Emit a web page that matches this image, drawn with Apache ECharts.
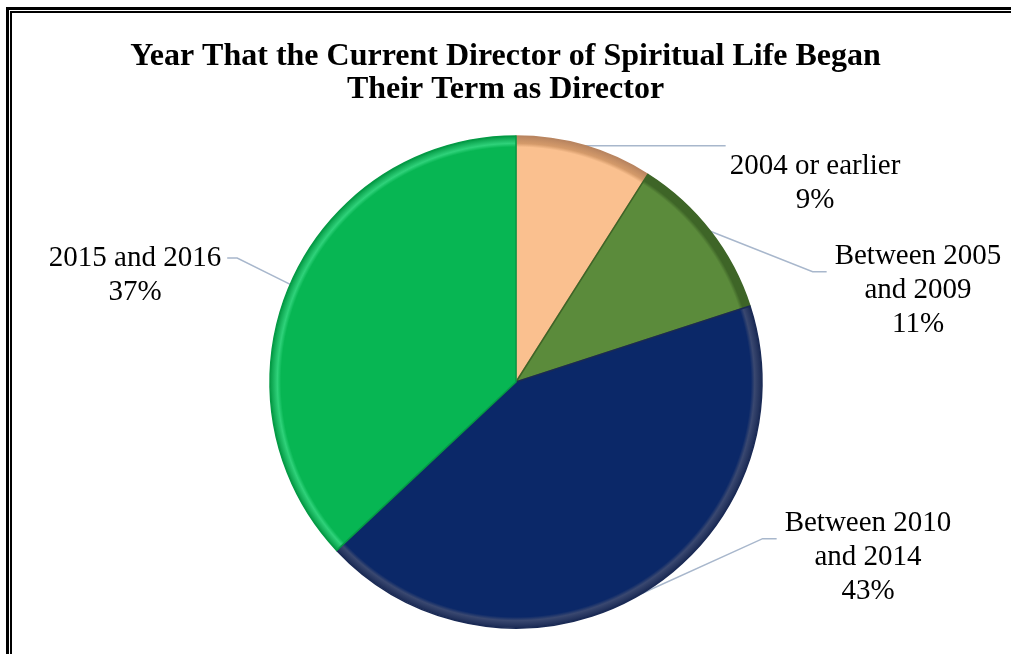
<!DOCTYPE html>
<html lang="en">
<head>
    <meta charset="UTF-8">
    <title>Year That the Current Director of Spiritual Life Began Their Term as Director</title>
    <script type="text/javascript" src="https://cdn.jsdelivr.net/npm/echarts@6/dist/echarts.min.js"></script>
    <style>
        html, body { margin: 0; padding: 0; background: #fff; overflow: hidden; }
        #chart { position: absolute; left: 0; top: 0; width: 1011px; height: 654px; }
        /* double frame, only top and left edges fall inside the picture */
        .frame-outer { position: absolute; left: 6px; top: 7px; width: 1200px; height: 800px; border: 3px solid #000; }
        .frame-inner { position: absolute; left: 10px; top: 11px; width: 1200px; height: 800px; border: 2px solid #000; }
    </style>
</head>
<body>
<div id="chart"></div>
<div class="frame-outer"></div>
<div class="frame-inner"></div>
<script type="text/javascript">
    var categories = ['2004 or earlier', 'Between 2005\nand 2009', 'Between 2010\nand 2014', '2015 and 2016'];
    var shares = [9, 11, 43, 37];

    // centre of each label block, and how its leader meets it
    var labelSpots = [[815, 183], [918, 290], [868, 557], [135, 275]];
    var leaderKind = ['flat', 'left', 'left', 'right'];

    var sliceColors = ['#FAC08F', '#5B8B3B', '#0B2868', '#07B653'];
    var rimColors = ['#D49A6A', '#3E6527', '#3A4870', '#2FD27A'];
    var edgeColors = ['#B98560', '#3E6527', '#1A2A55', '#049A45'];

    var chart = echarts.init(document.getElementById('chart'));
    var cx = 516, cy = 382, R = 246;

    var pieData = [];
    for (var i = 0; i < categories.length; i++) {
        pieData.push({
            name: categories[i],
            value: shares[i],
            itemStyle: {
                color: {
                    type: 'radial', x: cx, y: cy, r: R, global: true,
                    colorStops: [
                        { offset: 0, color: sliceColors[i] },
                        { offset: 0.955, color: sliceColors[i] },
                        { offset: 0.97, color: rimColors[i] },
                        { offset: 1, color: edgeColors[i] }
                    ]
                },
                borderColor: edgeColors[i],
                borderWidth: 1.5
            }
        });
    }

    var option = {
        backgroundColor: '#fff',
        animation: false,
        title: {
            text: 'Year That the Current Director of Spiritual Life Began\nTheir Term as Director',
            left: 'center',
            top: 40,
            padding: 0,
            textStyle: {
                fontFamily: 'Liberation Serif',
                fontWeight: 'bold',
                fontSize: 32,
                lineHeight: 33,
                color: '#000'
            }
        },
        series: [{
            type: 'pie',
            center: [cx, cy],
            radius: R,
            startAngle: 90,
            clockwise: true,
            data: pieData,
            label: {
                show: true,
                position: 'outside',
                formatter: '{b}\n{c}%',
                fontFamily: 'Liberation Serif',
                fontSize: 29,
                lineHeight: 34,
                color: '#000',
                align: 'center'
            },
            labelLine: {
                show: true,
                length: 10,
                length2: 10,
                lineStyle: { color: '#A8B7CC', width: 1.5 }
            },
            labelLayout: function (params) {
                var k = params.dataIndex;
                var spot = labelSpots[k];
                var w = params.labelRect.width, h = params.labelRect.height;
                var left = spot[0] - w / 2, top = spot[1] - h / 2;
                var a = params.labelLinePoints[0];
                var pts;
                if (leaderKind[k] === 'flat') {
                    pts = [a, [left - 4, a[1]], [left - 4, a[1]]];
                } else if (leaderKind[k] === 'left') {
                    var yl = top + h * 0.32;
                    pts = [a, [left - 22, yl], [left - 8, yl]];
                } else {
                    var yr = top + 17;
                    pts = [a, [left + w + 16, yr], [left + w + 6, yr]];
                }
                return { x: spot[0], y: spot[1], align: 'center', verticalAlign: 'middle', labelLinePoints: pts };
            }
        }]
    };
    chart.setOption(option);
</script>
</body>
</html>
